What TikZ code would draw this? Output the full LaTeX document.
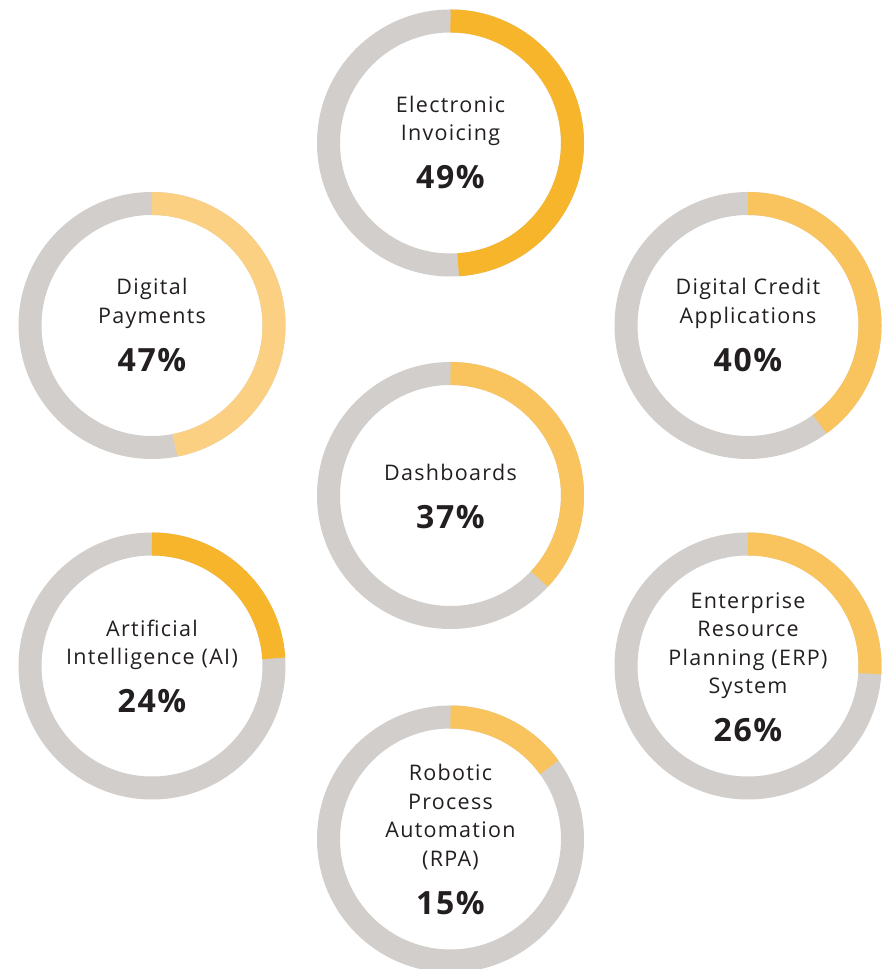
\documentclass[tikz,border=0pt]{standalone}
\usepackage{fontspec}
\setmainfont{Open Sans}
\newfontfamily\lblfont[LetterSpace=6]{Open Sans}
\newfontfamily\pctfont[LetterSpace=5]{Open Sans}
\usetikzlibrary{positioning}

\definecolor{ringgray}{HTML}{D1CECB}
\definecolor{amberdark}{HTML}{F7B52B}
\definecolor{ambermid}{HTML}{F9C45E}
\definecolor{amberlight}{HTML}{FBD083}
\definecolor{inkdark}{HTML}{231F20}

\tikzset{
	ring/.style={line width=23pt, ringgray},
	part/.style={line width=23pt},
	lbl/.style={align=center, inner sep=0pt, text depth=0pt, text=inkdark,
		font=\lblfont\fontsize{21.5}{28.5}\selectfont},
	pct/.style={inner sep=0pt, anchor=base, text=inkdark,
		font=\pctfont\fontsize{32}{36}\selectfont\bfseries}
}

\begin{document}
\begin{tikzpicture}[x=1pt, y=1pt]
	\useasboundingbox (0,0) rectangle (886,969);
	
	\coordinate (ei) at (450.5,826);
	\coordinate (dp) at (152,643.5);
	\coordinate (dc) at (748,643.5);
	\coordinate (db) at (450.5,473.5);
	\coordinate (ai) at (152,303);
	\coordinate (erp) at (748,303);
	\coordinate (rpa) at (450.5,130);
	
	\draw[ring] (ei) circle[radius=122];
	\draw[ring] (dp) circle[radius=122];
	\draw[ring] (dc) circle[radius=122];
	\draw[ring] (db) circle[radius=122];
	\draw[ring] (ai) circle[radius=122];
	\draw[ring] (erp) circle[radius=122];
	\draw[ring] (rpa) circle[radius=122];
	
	\draw[part, amberdark] (ei) ++(90:122) arc[start angle=90, end angle=-86.4, radius=122];
	\draw[part, amberlight] (dp) ++(90:122) arc[start angle=90, end angle=-79.2, radius=122];
	\draw[part, ambermid] (dc) ++(90:122) arc[start angle=90, end angle=-54, radius=122];
	\draw[part, ambermid] (db) ++(90:122) arc[start angle=90, end angle=-43.2, radius=122];
	\draw[part, amberdark] (ai) ++(90:122) arc[start angle=90, end angle=3.6, radius=122];
	\draw[part, ambermid] (erp) ++(90:122) arc[start angle=90, end angle=-3.6, radius=122];
	\draw[part, ambermid] (rpa) ++(90:122) arc[start angle=90, end angle=36, radius=122];
	
	% percentages
	\node[pct] (eipct) at (450.5,780.25) {49\%};
	\node[pct] (dppct) at (152,597.75) {47\%};
	\node[pct] (dcpct) at (748,597.75) {40\%};
	\node[pct] (dbpct) at (450.5,440) {37\%};
	\node[pct] (aipct) at (152,256) {24\%};
	\node[pct] (erppct) at (748,227) {26\%};
	\node[pct] (rpapct) at (450.5,54.5) {15\%};
	
	% labels
	\node[lbl, above=48pt of eipct.base] (eilbl) {Electronic\\Invoicing};
	\node[lbl, above=48pt of dppct.base] (dplbl) {Digital\\Payments};
	\node[lbl, above=48pt of dcpct.base] (dclbl) {Digital Credit\\Applications};
	\node[lbl, above=48pt of dbpct.base] (dblbl) {Dashboards};
	\node[lbl, above=48pt of aipct.base] (ailbl) {Artificial\\Intelligence (AI)};
	\node[lbl, above=48pt of erppct.base] (erplbl) {Enterprise\\Resource\\Planning (ERP)\\System};
	\node[lbl, above=48pt of rpapct.base] (rpalbl) {Robotic\\Process\\Automation\\(RPA)};
\end{tikzpicture}
\end{document}
